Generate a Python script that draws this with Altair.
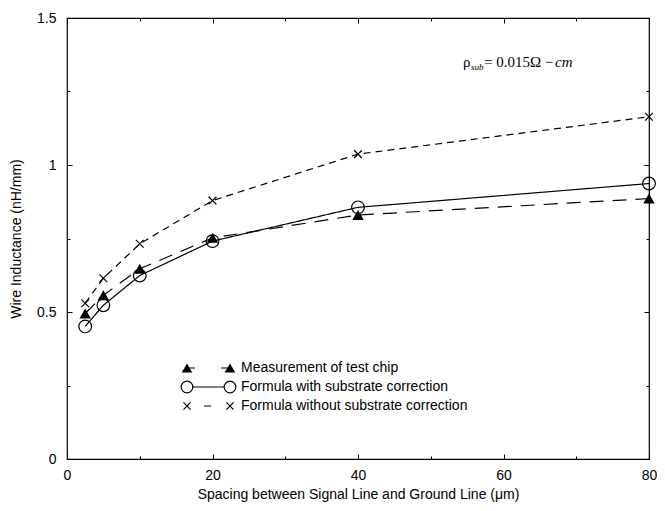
import altair as alt
import pandas as pd

# ---- data ----
spacing = [2.5, 5, 10, 20, 40, 80]
measured = [0.495, 0.557, 0.647, 0.752, 0.830, 0.886]
with_corr = [0.451, 0.523, 0.624, 0.741, 0.856, 0.937]
without_corr = [0.530, 0.615, 0.732, 0.879, 1.037, 1.164]

series_names = [
    "Measurement of test chip",
    "Formula with substrate correction",
    "Formula without substrate correction",
]
x_major = [0, 20, 40, 60, 80]
x_minor = [10, 30, 50, 70]
y_major = [0, 0.5, 1, 1.5]
y_minor = [0.25, 0.75, 1.25]

W, H = 582, 441
FONT = "Liberation Sans"
SERIF = "Liberation Serif"

rows = []
for name, vals in zip(series_names, [measured, with_corr, without_corr]):
    for xv, yv in zip(spacing, vals):
        rows.append({"series": name, "x": xv, "y": yv})
df = pd.DataFrame(rows)

xs = alt.Scale(domain=[0, 80], nice=False, zero=False)
ys = alt.Scale(domain=[0, 1.5], nice=False, zero=False)

base = alt.Chart(df)

X_PATH = "M-1,-1L1,1M-1,1L1,-1"

styles = {
    series_names[0]: dict(dash=[14, 9], shape="triangle-up", filled=True, size=130),
    series_names[1]: dict(dash=[1, 0], shape="circle", filled=False, size=160),
    series_names[2]: dict(dash=[7, 5], shape=X_PATH, filled=False, size=60),
}

hidden_axis = dict(labels=False, ticks=False, domain=False, grid=False, title="")

main_axis_x = alt.Axis(
    values=x_major, ticks=False, domain=False, grid=False, labelFlush=False,
    labelFont=FONT, labelFontSize=14, labelColor="black", labelPadding=9,
    title="Spacing between Signal Line and Ground Line (\u03bcm)",
    titleFont=FONT, titleFontSize=14, titleFontWeight="normal", titleColor="black",
    titlePadding=5,
)
main_axis_y = alt.Axis(
    values=y_major, ticks=False, domain=False, grid=False, labelFlush=False,
    labelFont=FONT, labelFontSize=14, labelColor="black", labelPadding=11,
    title="Wire Inductance (nH/mm)", format="~g",
    titleFont=FONT, titleFontSize=14, titleFontWeight="normal", titleColor="black",
    titlePadding=13,
)

layers = []
first = True
for name in series_names:
    st = styles[name]
    sub = base.transform_filter(alt.datum.series == name)
    line = sub.mark_line(color="black", strokeWidth=1.2, strokeDash=st["dash"]).encode(
        x=alt.X("x:Q", scale=xs, axis=main_axis_x if first else alt.Axis(**hidden_axis)),
        y=alt.Y("y:Q", scale=ys, axis=main_axis_y if first else alt.Axis(**hidden_axis)),
    )
    first = False
    pts = sub.mark_point(
        shape=st["shape"], filled=st["filled"], size=st["size"],
        color="black", fill="black" if st["filled"] else "white",
        fillOpacity=1 if st["filled"] else 0,
        strokeWidth=1.2, opacity=1,
    ).encode(
        x=alt.X("x:Q", scale=xs, axis=alt.Axis(**hidden_axis)),
        y=alt.Y("y:Q", scale=ys, axis=alt.Axis(**hidden_axis)),
    )
    layers += [line, pts]


def tick_layer(x_orient, y_orient, xvals, yvals, size):
    return base.mark_point(opacity=0).encode(
        x=alt.X("x:Q", scale=xs, axis=alt.Axis(
            orient=x_orient, offset=-H, values=xvals, labels=False, title="",
            domain=False, grid=False, ticks=True, tickSize=size, tickColor="black", tickWidth=1)),
        y=alt.Y("y:Q", scale=ys, axis=alt.Axis(
            orient=y_orient, offset=-W, values=yvals, labels=False, title="",
            domain=False, grid=False, ticks=True, tickSize=size, tickColor="black", tickWidth=1)),
    )

# inward ticks on all four sides (major and minor)
layers += [
    tick_layer("top", "right", x_major, y_major, 5),      # bottom / left edges
    tick_layer("top", "right", x_minor, y_minor, 3),
    tick_layer("bottom", "left", x_major, y_major, 5),    # top / right edges
    tick_layer("bottom", "left", x_minor, y_minor, 3),
]

# ---- manual legend (guide, placed in pixels inside the plot) ----
one = alt.Chart(pd.DataFrame({"k": [0]}))
lx1, lx2, ltext = 120, 163, 174
row_y = [350, 369, 388]
for i, name in enumerate(series_names):
    st = styles[name]
    yy = row_y[i]
    if i == 0:
        dash = [8, 26]
    elif i == 1:
        dash = [1, 0]
    else:
        dash = [0, 17, 7, 50]
    layers.append(one.mark_rule(color="black", strokeWidth=1.2, strokeDash=dash).encode(
        x=alt.value(lx1), x2=alt.value(lx2), y=alt.value(yy)))
    for px in (lx1, lx2):
        layers.append(one.mark_point(
            shape=st["shape"], filled=st["filled"], size=st["size"] * 0.85,
            color="black", fill="black" if st["filled"] else "white",
            fillOpacity=1 if (st["filled"] or i == 1) else 0,
            strokeWidth=1.2, opacity=1,
        ).encode(x=alt.value(px), y=alt.value(yy)))
    layers.append(one.mark_text(
        text=name, align="left", baseline="middle", font=FONT, fontSize=14, color="black"
    ).encode(x=alt.value(ltext), y=alt.value(yy)))

# ---- annotation rho_sub = 0.015 Ohm - cm ----
ann_y = 49
layers += [
    one.mark_text(text="\u03c1", align="left", baseline="alphabetic", font=SERIF, fontSize=15, color="black")
    .encode(x=alt.value(396), y=alt.value(ann_y)),
    one.mark_text(text="sub", align="left", baseline="alphabetic", font=SERIF, fontSize=9, fontStyle="italic", color="black")
    .encode(x=alt.value(404), y=alt.value(ann_y + 3)),
    one.mark_text(text="= 0.015\u03a9 \u2212", align="left", baseline="alphabetic", font=SERIF, fontSize=15, color="black")
    .encode(x=alt.value(417), y=alt.value(ann_y)),
    one.mark_text(text="cm", align="left", baseline="alphabetic", font=SERIF, fontSize=15, fontStyle="italic", color="black")
    .encode(x=alt.value(488), y=alt.value(ann_y)),
]

chart = alt.layer(*layers).resolve_axis(x="independent", y="independent").properties(
    width=W, height=H,
    autosize=alt.AutoSizeParams(type="none"),
    padding={"left": 59, "top": 10, "right": 8, "bottom": 44},
    background="white",
).configure_view(stroke="black", strokeWidth=1.2)

chart.save("out.html", embed_options={"renderer": "svg", "actions": False})
